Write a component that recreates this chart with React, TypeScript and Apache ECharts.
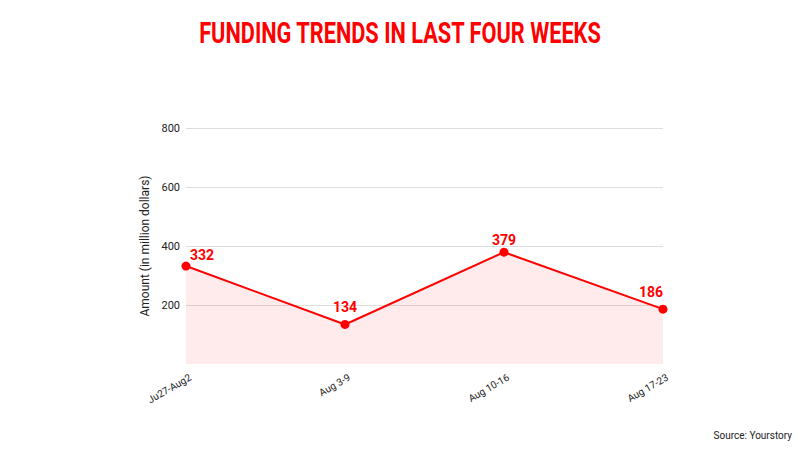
import React, { useEffect, useRef } from "react";
import * as echarts from "echarts";

const categories = ["Ju27-Aug2", "Aug 3-9", "Aug 10-16", "Aug 17-23"];
const amounts = [332, 134, 379, 186];
const yTicks = [0, 200, 400, 600, 800];

export default function App() {
  const ref = useRef<HTMLDivElement>(null);
  useEffect(() => {
    if (!ref.current) return;
    const chart = echarts.init(ref.current, null, { renderer: "svg" });
    const labelPos: any[] = [
      { align: "left", offset: [4, 5] },
      { align: "center", offset: [0, -1] },
      { align: "center", offset: [0, 4] },
      { align: "right", offset: [0, -1] },
    ];
    chart.setOption({
      animation: false,
      backgroundColor: "#ffffff",
      graphic: [
        {
          type: "text",
          x: 400,
          y: 18,
          scaleX: 0.75,
          style: {
            text: "FUNDING TRENDS IN LAST FOUR WEEKS",
            fill: "#ff0000",
            font: "bold 29px Roboto",
            align: "center",
            verticalAlign: "top",
          },
        },
        {
          type: "text",
          right: 8,
          top: 430,
          style: {
            text: "Source: Yourstory",
            fill: "#222222",
            font: "10px Roboto",
          },
        },
      ],
      grid: { left: 186, right: 137, top: 128, bottom: 86 },
      xAxis: {
        type: "category",
        data: categories,
        boundaryGap: false,
        axisLine: { show: false },
        axisTick: { show: false },
        axisLabel: {
          rotate: 30,
          color: "#222222",
          fontFamily: "Roboto",
          fontSize: 10,
          margin: 15,
          padding: [0, -5, 0, 0],
          interval: 0,
        },
      },
      yAxis: {
        type: "value",
        min: yTicks[0],
        max: yTicks[yTicks.length - 1],
        interval: yTicks[1] - yTicks[0],
        name: "Amount (in million dollars)",
        nameLocation: "middle",
        nameGap: 35,
        nameTextStyle: { color: "#222222", fontFamily: "Roboto", fontSize: 12 },
        axisLine: { show: false },
        axisTick: { show: false },
        axisLabel: {
          color: "#222222",
          fontFamily: "Roboto",
          fontSize: 11,
          margin: 6,
          formatter: (v: number) => (v === 0 ? "" : String(v)),
        },
        splitLine: {
          lineStyle: { color: "#dddddd", width: 1 },
          showMinLine: false,
        },
      },
      series: [
        {
          type: "line",
          data: amounts.map((v, i) => ({
            value: v,
            label: labelPos[i],
          })),
          symbol: "circle",
          symbolSize: 9,
          itemStyle: { color: "#ff0000" },
          lineStyle: { color: "#ff0000", width: 2 },
          areaStyle: { color: "rgba(255,0,0,0.11)" },
          label: {
            show: true,
            position: "top",
            color: "#ff0000",
            fontFamily: "Roboto",
            fontWeight: "bold",
            fontSize: 14,
          },
        },
      ],
    });
    return () => chart.dispose();
  }, []);
  return (
    <div
      ref={ref}
      style={{ position: "absolute", left: 0, top: 0, width: 800, height: 450 }}
    />
  );
}
